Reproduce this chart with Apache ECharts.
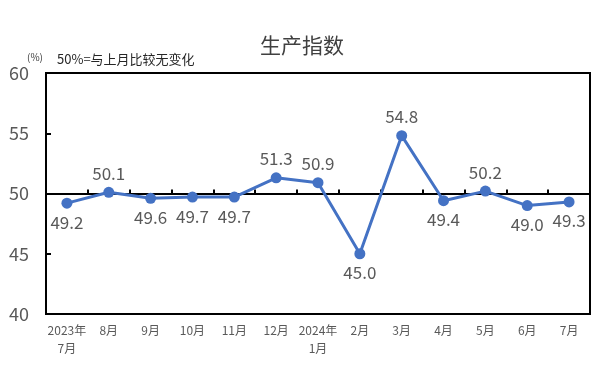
<!DOCTYPE html>
<html><head><meta charset="utf-8">
<script src="https://cdn.jsdelivr.net/npm/echarts@6/dist/echarts.min.js"></script>
<style>html,body{margin:0;padding:0;background:#fff}#c{width:604px;height:368px}</style>
</head><body><div id="c"></div>
<script>
const categories = ['2023年\n7月','8月','9月','10月','11月','12月','2024年\n1月','2月','3月','4月','5月','6月','7月'];
const values = [49.2, 50.1, 49.6, 49.7, 49.7, 51.3, 50.9, 45.0, 54.8, 49.4, 50.2, 49.0, 49.3];
const labelSide = ['bottom','top','bottom','bottom','bottom','top','top','bottom','top','bottom','top','bottom','bottom'];
const yTicks = {min: 40, max: 60, interval: 5};
const baseline = 50;

const FONT = '"Noto Sans CJK SC", "Noto Sans", sans-serif';
const chart = echarts.init(document.getElementById('c'), null, {renderer: 'canvas'});
const L = 46, R = 14, T = 73, B = 54;
const plotH = 368 - T - B;
const upperH = plotH * (yTicks.max - baseline) / (yTicks.max - yTicks.min);

chart.setOption({
  animation: false,
  backgroundColor: '#fff',
  title: {
    text: '生产指数', left: 'center', top: 30,
    textStyle: {fontFamily: FONT, fontSize: 21, fontWeight: 'normal', color: '#404040'}
  },
  graphic: [
    {type: 'text', left: 27, top: 52, style: {text: '(%)', font: '10px ' + FONT, fill: '#404040'}},
    {type: 'text', left: 57, top: 53, style: {text: '50%=与上月比较无变化', font: '13px ' + FONT, fill: '#262626'}}
  ],
  grid: [
    {left: L, right: R, top: T, bottom: B, show: true, borderColor: '#000', borderWidth: 2, backgroundColor: 'transparent'},
    {left: L, right: R, top: T, height: upperH, show: false}
  ],
  xAxis: [
    {
      type: 'category', data: categories, gridIndex: 0, boundaryGap: true,
      axisLine: {show: true, lineStyle: {color: '#000', width: 2}},
      axisTick: {show: false},
      axisLabel: {interval: 0, color: '#595959', fontFamily: FONT, fontSize: 12, lineHeight: 18, margin: 7}
    },
    {
      type: 'category', data: categories, gridIndex: 1, boundaryGap: true, position: 'bottom',
      axisLine: {show: true, lineStyle: {color: '#000', width: 2}},
      axisTick: {show: true, inside: true, length: 4, lineStyle: {color: '#000', width: 2}, interval: 0},
      axisLabel: {show: false}
    }
  ],
  yAxis: [
    {
      type: 'value', gridIndex: 0, min: yTicks.min, max: yTicks.max, interval: yTicks.interval,
      axisLine: {show: true, lineStyle: {color: '#000', width: 2}},
      axisTick: {show: true, inside: true, length: 5, lineStyle: {color: '#000', width: 2}},
      splitLine: {show: false},
      axisLabel: {color: '#595959', fontFamily: FONT, fontSize: 18, margin: 17}
    },
    {
      type: 'value', gridIndex: 1, min: baseline, max: yTicks.max, show: false, splitLine: {show: false}
    }
  ],
  series: [{
    type: 'line', xAxisIndex: 0, yAxisIndex: 0, z: 5,
    data: values.map((v, i) => ({value: v, label: {position: labelSide[i]}})),
    symbol: 'circle', symbolSize: 11,
    lineStyle: {color: '#4472C4', width: 3},
    itemStyle: {color: '#4472C4'},
    label: {show: true, distance: 5, color: '#595959', fontFamily: FONT, fontSize: 17,
      formatter: p => p.value.toFixed(1)}
  }]
});
</script></body></html>
